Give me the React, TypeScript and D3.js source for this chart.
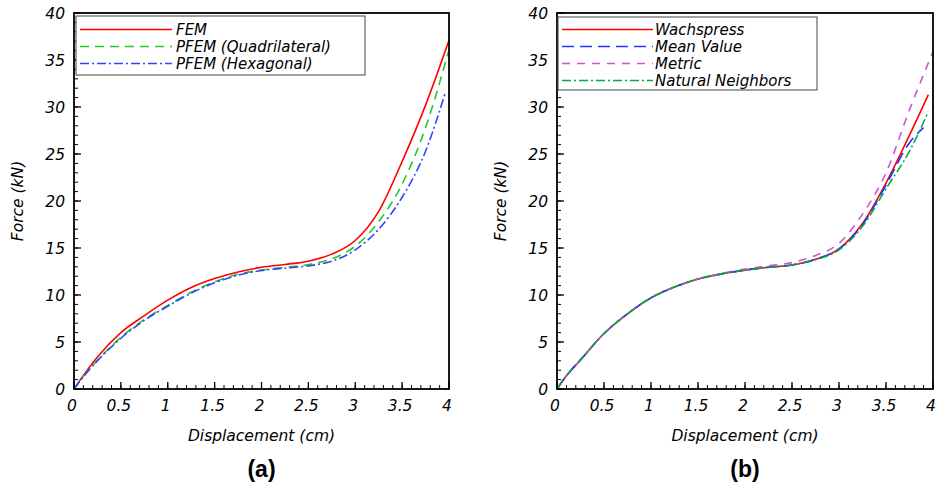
import React from "react";
import * as d3 from "d3";

// ---------- data ----------
const xTicks = [0, 0.5, 1, 1.5, 2, 2.5, 3, 3.5, 4];
const yTicks = [0, 5, 10, 15, 20, 25, 30, 35, 40];

// panel (a)
const dispA = [0, 0.1, 0.25, 0.5, 0.75, 1.0, 1.25, 1.5, 1.75, 2.0, 2.25, 2.5, 2.75, 3.0, 3.25, 3.5, 3.75, 4.0];
const femA = [0, 1.45, 3.4, 6.0, 7.8, 9.45, 10.8, 11.75, 12.45, 12.95, 13.25, 13.6, 14.35, 15.8, 18.9, 24.2, 30.2, 37.1];
const quadA = [0, 1.35, 3.05, 5.5, 7.4, 8.9, 10.3, 11.4, 12.2, 12.65, 12.95, 13.25, 13.85, 15.2, 17.8, 21.8, 27.8, 36.1];
const dispHexA = [0, 0.1, 0.25, 0.5, 0.75, 1.0, 1.25, 1.5, 1.75, 2.0, 2.25, 2.5, 2.75, 3.0, 3.25, 3.5, 3.75, 3.96];
const hexA = [0, 1.3, 3.0, 5.4, 7.3, 8.8, 10.2, 11.3, 12.1, 12.6, 12.85, 13.1, 13.6, 14.8, 17.0, 20.4, 25.3, 31.5];

// panel (b)
const dispB = [0, 0.1, 0.25, 0.5, 0.75, 1.0, 1.25, 1.5, 1.75, 2.0, 2.25, 2.5, 2.75, 3.0, 3.25, 3.5, 3.75];
const wachB = [0, 1.4, 3.1, 5.9, 8.0, 9.7, 10.85, 11.7, 12.25, 12.65, 12.95, 13.2, 13.8, 14.9, 17.6, 21.9, 27.0];
const wachEnd = [3.95, 31.3];
const meanB = [0, 1.4, 3.1, 5.9, 8.0, 9.7, 10.85, 11.7, 12.25, 12.65, 12.95, 13.2, 13.8, 14.9, 17.5, 21.7, 26.2];
const meanEnd = [3.9, 27.8];
const metricB = [0, 1.4, 3.1, 5.9, 8.0, 9.7, 10.85, 11.7, 12.3, 12.75, 13.1, 13.45, 14.2, 15.5, 18.6, 23.0, 29.7];
const metricEnd = [4.0, 35.9];
const naturalB = [0, 1.4, 3.1, 5.9, 8.0, 9.7, 10.85, 11.7, 12.25, 12.65, 12.95, 13.2, 13.75, 14.8, 17.3, 21.3, 25.3];
const naturalEnd = [3.95, 29.5];

const legendA = ["FEM", "PFEM (Quadrilateral)", "PFEM (Hexagonal)"];
const legendB = ["Wachspress", "Mean Value", "Metric", "Natural Neighbors"];

// ---------- styling ----------
const FONT = "'DejaVu Sans', Verdana, sans-serif";

type Series = { name: string; xs: number[]; ys: number[]; color: string; dash?: string };

const seriesA: Series[] = [
  { name: legendA[0], xs: dispA, ys: femA, color: "#ff0000" },
  { name: legendA[1], xs: dispA, ys: quadA, color: "#22cc22", dash: "9,6" },
  { name: legendA[2], xs: dispHexA, ys: hexA, color: "#3344ff", dash: "9,3,2,3" },
];

const seriesB: Series[] = [
  { name: legendB[0], xs: [...dispB, wachEnd[0]], ys: [...wachB, wachEnd[1]], color: "#ff0000" },
  { name: legendB[1], xs: [...dispB, meanEnd[0]], ys: [...meanB, meanEnd[1]], color: "#2233ff", dash: "12,6" },
  { name: legendB[2], xs: [...dispB, metricEnd[0]], ys: [...metricB, metricEnd[1]], color: "#cc55cc", dash: "8,7" },
  { name: legendB[3], xs: [...dispB, naturalEnd[0]], ys: [...naturalB, naturalEnd[1]], color: "#00aa44", dash: "9,3,2,3" },
];

type PanelProps = {
  left: number;
  right: number;
  series: Series[];
  legendBox: { x0: number; y0: number; x1: number; y1: number; rows: number[]; lx0: number; lx1: number; tx: number };
  tag: string;
};

const TOP = 13;
const BOTTOM = 389;

function Panel({ left, right, series, legendBox, tag }: PanelProps) {
  const x = d3.scaleLinear().domain([0, 4]).range([left, right]);
  const y = d3.scaleLinear().domain([0, 40]).range([BOTTOM, TOP]);
  const minorX = d3.range(0, 4.0001, 0.1).map((v) => +v.toFixed(2));
  const minorY = d3.range(0, 40.0001, 1);

  const line = (s: Series) =>
    d3
      .line<number>()
      .x((_, i) => x(s.xs[i]))
      .y((d) => y(d))
      .curve(d3.curveMonotoneX)(s.ys) || "";

  const clipId = "clip-" + tag.replace(/[()]/g, "");
  const cx = (left + right) / 2;

  return (
    <g>
      <defs>
        <clipPath id={clipId}>
          <rect x={left} y={TOP} width={right - left} height={BOTTOM - TOP} />
        </clipPath>
      </defs>
      {/* minor ticks */}
      {minorX.map((v, i) => (
        <line key={"mx" + i} x1={x(v)} x2={x(v)} y1={BOTTOM} y2={BOTTOM - 4} stroke="#000" strokeWidth={1} />
      ))}
      {minorY.map((v, i) => (
        <line key={"my" + i} x1={left} x2={left + 4} y1={y(v)} y2={y(v)} stroke="#000" strokeWidth={1} />
      ))}
      {/* major ticks */}
      {xTicks.map((v, i) => (
        <line key={"Mx" + i} x1={x(v)} x2={x(v)} y1={BOTTOM} y2={BOTTOM - 7} stroke="#000" strokeWidth={1.3} />
      ))}
      {yTicks.map((v, i) => (
        <line key={"My" + i} x1={left} x2={left + 7} y1={y(v)} y2={y(v)} stroke="#000" strokeWidth={1.3} />
      ))}
      {/* curves */}
      <g clipPath={`url(#${clipId})`}>
        {series.map((s, i) => (
          <path key={i} d={line(s)} fill="none" stroke={s.color} strokeWidth={1.6} strokeDasharray={s.dash} />
        ))}
      </g>
      {/* frame */}
      <rect x={left} y={TOP} width={right - left} height={BOTTOM - TOP} fill="none" stroke="#000" strokeWidth={1.8} />
      {/* tick labels */}
      {xTicks.map((v, i) => (
        <text key={"tx" + i} x={x(v) - 2} y={411} textAnchor="middle" fontFamily={FONT} fontStyle="italic" fontSize={15.5}>
          {String(v)}
        </text>
      ))}
      {yTicks.map((v, i) => (
        <text key={"ty" + i} x={left - 9} y={y(v) + 6} textAnchor="end" fontFamily={FONT} fontStyle="italic" fontSize={15.5}>
          {String(v)}
        </text>
      ))}
      {/* axis titles */}
      <text x={cx} y={441} textAnchor="middle" fontFamily={FONT} fontStyle="italic" fontSize={15.5}>
        Displacement (cm)
      </text>
      <text
        transform={`translate(${left - 51},${(TOP + BOTTOM) / 2}) rotate(-90)`}
        textAnchor="middle"
        fontFamily={FONT}
        fontStyle="italic"
        fontSize={15.5}
      >
        Force (kN)
      </text>
      <text x={cx} y={477} textAnchor="middle" fontFamily="'Liberation Sans', Arial, sans-serif" fontWeight="bold" fontSize={23}>
        {tag}
      </text>
      {/* legend */}
      <rect
        x={legendBox.x0}
        y={legendBox.y0}
        width={legendBox.x1 - legendBox.x0}
        height={legendBox.y1 - legendBox.y0}
        fill="#fff"
        stroke="#444"
        strokeWidth={1}
      />
      {series.map((s, i) => (
        <g key={"lg" + i}>
          <line
            x1={legendBox.lx0}
            x2={legendBox.lx1}
            y1={legendBox.rows[i]}
            y2={legendBox.rows[i]}
            stroke={s.color}
            strokeWidth={1.6}
            strokeDasharray={s.dash}
          />
          <text x={legendBox.tx} y={legendBox.rows[i] + 5.5} fontFamily={FONT} fontStyle="italic" fontSize={15}>
            {s.name}
          </text>
        </g>
      ))}
    </g>
  );
}

export default function App() {
  return (
    <svg width={937} height={487} style={{ position: "absolute", left: 0, top: 0, background: "#fff" }}>
      <rect x={0} y={0} width={937} height={487} fill="#fff" />
      <Panel
        left={74}
        right={449}
        series={seriesA}
        tag="(a)"
        legendBox={{ x0: 76, y0: 16, x1: 365, y1: 75, rows: [29.5, 46.5, 63.5], lx0: 80, lx1: 172, tx: 176 }}
      />
      <Panel
        left={557}
        right={933}
        series={seriesB}
        tag="(b)"
        legendBox={{ x0: 558, y0: 17, x1: 817, y1: 90, rows: [29.5, 46.5, 63.5, 80.5], lx0: 562, lx1: 653, tx: 655 }}
      />
    </svg>
  );
}
